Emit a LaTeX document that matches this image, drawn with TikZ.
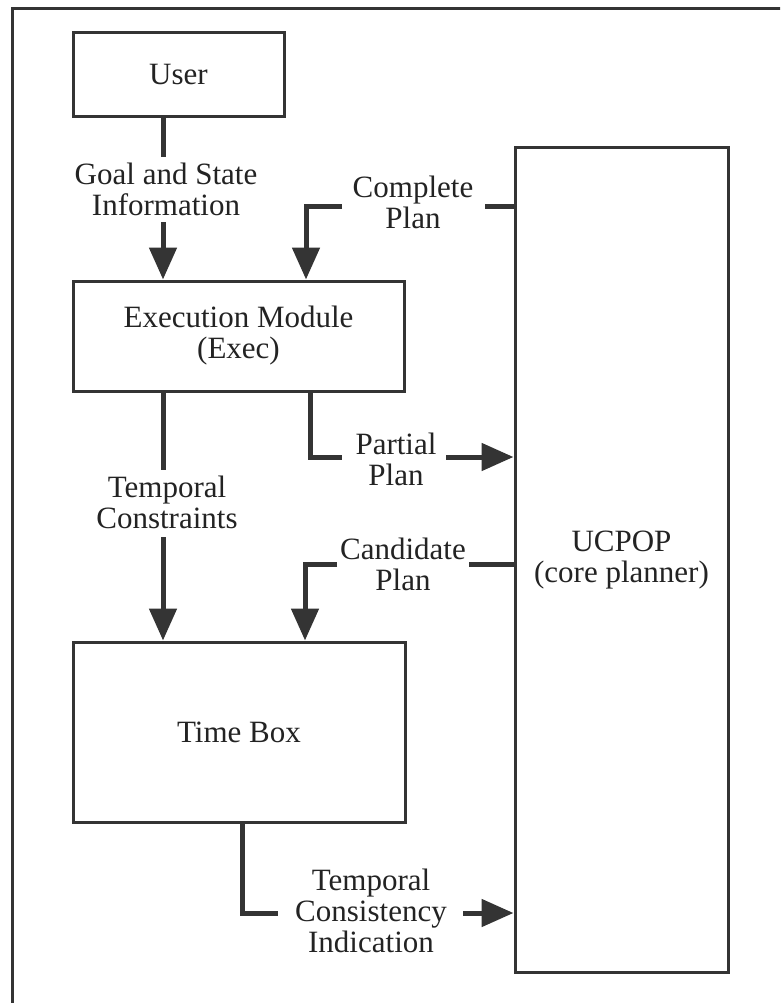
\documentclass[tikz,border=0pt]{standalone}
\usepackage{fontspec}
\setmainfont{Liberation Serif}
\usetikzlibrary{arrows.meta}
\definecolor{ink}{RGB}{52,52,52}
\definecolor{txt}{RGB}{35,35,35}
\begin{document}
\begin{tikzpicture}[x=1pt,y=-1pt,
  box/.style={draw=ink,line width=3pt,fill=none,inner sep=0pt,text=txt,align=center,font=\fontsize{31}{31}\selectfont},
  lbl/.style={inner sep=0pt,text=txt,align=center,font=\fontsize{31}{31}\selectfont},
  conn/.style={draw=ink,line width=5pt},
  arr/.style={conn,-{Triangle[width=27pt,length=32pt]}}]
\useasboundingbox (0,0) rectangle (780,1003);
\clip (0,0) rectangle (780,1003);
\fill[white] (0,0) rectangle (780,1003);
% frame
\draw[ink,line width=3pt] (12,9) rectangle (800,1030);
% boxes
\node[box,minimum width=211pt,minimum height=84pt] (user) at (178.5,75) {User};
\node[box,minimum width=331pt,minimum height=110pt] (exec) at (238.5,336) {Execution Module\\(Exec)};
\node[box,minimum width=332pt,minimum height=180pt] (timebox) at (239,732) {Time Box};
\node[box,minimum width=213pt,minimum height=824pt] (ucpop) at (621.5,560) {UCPOP\\(core planner)};
% labels
\node[lbl] (goal) at (166,189) {Goal and State\\Information};
\node[lbl] (complete) at (413,202) {Complete\\Plan};
\node[lbl] (partial) at (396,459) {Partial\\Plan};
\node[lbl] (tconstr) at (167,502) {Temporal\\Constraints};
\node[lbl] (cand) at (403,564) {Candidate\\Plan};
\node[lbl] (tcons) at (371,911) {Temporal\\Consistency\\Indication};
% bend / end coordinates
\coordinate (xa) at (163,0);
\coordinate (xb) at (306,0);
\coordinate (xc) at (310,0);
\coordinate (xd) at (305,0);
\coordinate (xe) at (242,0);
% User -> Exec
\draw[conn] (user.south -| xa) -- (163,157);
\draw[arr] (163,222) -- (exec.north -| xa);
% UCPOP -> Exec (Complete Plan)
\draw[conn] (ucpop.west |- 0,206) -- (485,206);
\draw[arr] (342,206) -- (306,206) -- (exec.north -| xb);
% Exec -> UCPOP (Partial Plan)
\draw[conn] (exec.south -| xc) -- (310,457) -- (342,457);
\draw[arr] (446,457) -- (ucpop.west |- 0,457);
% Exec -> Time Box (Temporal Constraints)
\draw[conn] (exec.south -| xa) -- (163,470);
\draw[arr] (163,537) -- (timebox.north -| xa);
% UCPOP -> Time Box (Candidate Plan)
\draw[conn] (ucpop.west |- 0,564) -- (469,564);
\draw[arr] (337,564) -- (305,564) -- (timebox.north -| xd);
% Time Box -> UCPOP (Temporal Consistency Indication)
\draw[conn] (timebox.south -| xe) -- (242,913) -- (278,913);
\draw[arr] (463,913) -- (ucpop.west |- 0,913);
\end{tikzpicture}
\end{document}
